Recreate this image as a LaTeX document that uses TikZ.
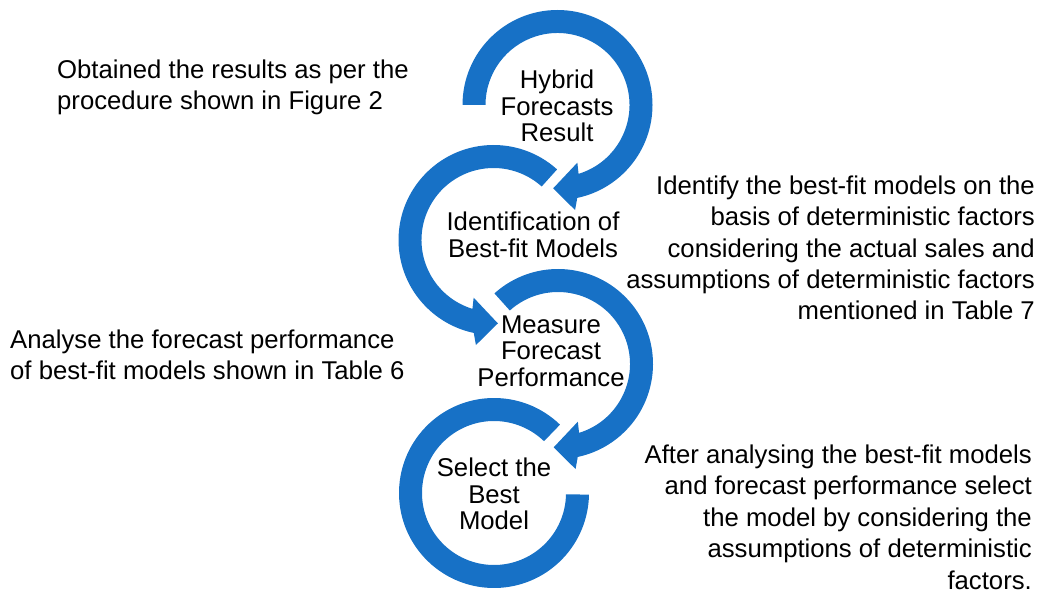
\documentclass[tikz,border=0pt]{standalone}
\usepackage{fontspec}
\setmainfont{Liberation Sans}
\usepackage{tikz}
\definecolor{ringblue}{RGB}{23,113,198}
\tikzstyle{stage} = [align=center, inner sep=0pt, font=\fontsize{25.7}{26.5}\selectfont]
\tikzstyle{leftnote} = [align=left, anchor=base west, inner sep=0pt, font=\fontsize{25.7}{31.4}\selectfont]
\tikzstyle{rightnote} = [align=right, anchor=base east, inner sep=0pt, font=\fontsize{25.7}{31.4}\selectfont]
\tikzstyle{ring} = [fill=ringblue]

\begin{document}
\begin{tikzpicture}[x=1pt,y=1pt]
  \useasboundingbox (0,0) rectangle (1044,592);
  \coordinate (c1) at (557.5,487);
  \coordinate (c2) at (493.5,352);
  \coordinate (c3) at (558,228);
  \coordinate (c4) at (494,99);
  % circular arrows, outer radius 95, inner 72
  \fill[ring, shift={(c1)}] (180:95) arc[start angle=180, end angle=-78, radius=95]
    -- (-80.5:106.5) -- (-93:83.5) -- (-71:61) -- (-73:72)
    arc[start angle=-73, end angle=180, radius=72] -- cycle;
  \fill[ring, shift={(c2)}] (48:95) arc[start angle=48, end angle=258, radius=95]
    -- (260.5:106.5) -- (273:83.5) -- (251:61) -- (253:72)
    arc[start angle=253, end angle=48, radius=72] -- cycle;
  \fill[ring, shift={(c3)}] (132:95) arc[start angle=132, end angle=-78, radius=95]
    -- (-80.5:106.5) -- (-93:83.5) -- (-71:61) -- (-73:72)
    arc[start angle=-73, end angle=132, radius=72] -- cycle;
  \fill[ring, shift={(c4)}] (46:95) arc[start angle=46, end angle=359, radius=95]
    -- (359:72) arc[start angle=359, end angle=46, radius=72] -- cycle;
  % stages
  \node (hyb) at (557,486) [stage] {Hybrid\\Forecasts\\Result};
  \node (ident) at (533,357) [stage] {Identification of\\Best-fit Models};
  \node (meas) at (551,241) [stage] {Measure\\Forecast\\Performance};
  \node (sel) at (494,98) [stage] {Select the\\Best\\Model};
  % notes
  \node (obt) at (57,482) [leftnote] {Obtained the results as per the\\procedure shown in Figure 2};
  \node (fit) at (1035,272) [rightnote] {Identify the best-fit models on the\\basis of deterministic factors\\considering the actual sales and\\assumptions of deterministic factors\\mentioned in Table 7};
  \node (perf) at (10,212) [leftnote] {Analyse the forecast performance\\of best-fit models shown in Table 6};
  \node (best) at (1032,3) [rightnote] {After analysing the best-fit models\\and forecast performance select\\the model by considering the\\assumptions of deterministic\\factors.};
\end{tikzpicture}
\end{document}
